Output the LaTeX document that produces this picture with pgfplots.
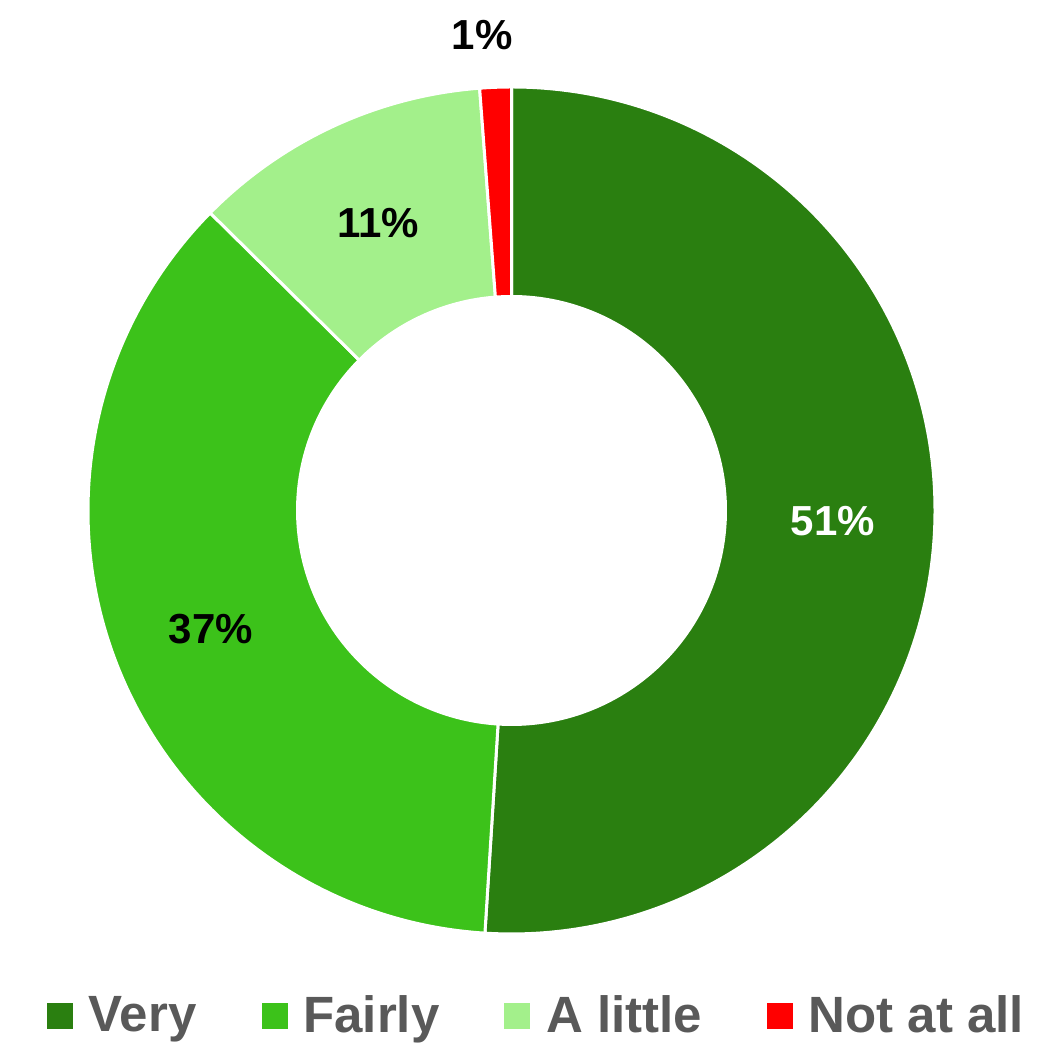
\documentclass[border=0pt]{standalone}
\usepackage{fontspec}
\setmainfont{Liberation Sans}
\usepackage{pgfplots}
\usepackage{pgfplotstable}
\pgfplotsset{compat=1.18}
\definecolor{cVery}{RGB}{42,127,16}
\definecolor{cFairly}{RGB}{60,194,26}
\definecolor{cLittle}{RGB}{163,240,139}
\definecolor{cNot}{RGB}{255,0,0}
\definecolor{cLeg}{RGB}{89,89,89}
% shares; labels as printed on the chart
\pgfplotstableread{
label value
Very 51.0
Fairly 36.4
{A little} 11.4
{Not at all} 1.2
}\data
\pgfplotstablegetelem{0}{value}\of\data \let\vA\pgfplotsretval
\pgfplotstablegetelem{1}{value}\of\data \let\vB\pgfplotsretval
\pgfplotstablegetelem{2}{value}\of\data \let\vC\pgfplotsretval
\pgfplotstablegetelem{3}{value}\of\data \let\vD\pgfplotsretval
\pgfmathsetmacro\aO{90}
\pgfmathsetmacro\aA{\aO-3.6*\vA}
\pgfmathsetmacro\aB{\aA-3.6*\vB}
\pgfmathsetmacro\aC{\aB-3.6*\vC}
\pgfmathsetmacro\aD{\aC-3.6*\vD}
% geometry (axis units = pixels; 1 unit = 0.5pt)
\def\cx{511.5}\def\cy{532.5}
\def\Ro{423.5}\def\Ri{214}
\newcommand\sector[3]{% start, end, colour
  \fill[#3, draw=white, line width=1.5pt]
    (axis cs:{\cx+\Ro*cos(#1)},{\cy+\Ro*sin(#1)})
    arc[start angle=#1, end angle=#2, radius=211.75pt]
    -- (axis cs:{\cx+\Ri*cos(#2)},{\cy+\Ri*sin(#2)})
    arc[start angle=#2, end angle=#1, radius=107pt] -- cycle;}
\begin{document}
\begin{tikzpicture}
\begin{axis}[
  width=527.5pt, height=521.5pt, scale only axis,
  xmin=0, xmax=1055, ymin=0, ymax=1043,
  hide axis, clip=false,
  legend columns=4,
  legend image code/.code={\fill[#1] (0pt,-6.25pt) rectangle (12.5pt,6.25pt);},
  legend style={at={(0.0445,0.0264)}, anchor=west, draw=none, fill=none,
    inner sep=0pt, outer sep=0pt,
    font=\fontsize{25.5}{28}\selectfont\bfseries, text=cLeg,
    nodes={inner sep=0pt, text=cLeg},
    /tikz/every odd column/.append style={column sep=8pt},
    /tikz/every even column/.append style={column sep=32.5pt}},
]
\sector{\aO}{\aA}{cVery}
\sector{\aA}{\aB}{cFairly}
\sector{\aB}{\aC}{cLittle}
\sector{\aC}{\aD}{cNot}
\addlegendimage{cVery}\addlegendentry{Very}
\addlegendimage{cFairly}\addlegendentry{Fairly}
\addlegendimage{cLittle}\addlegendentry{A little}
\addlegendimage{cNot}\addlegendentry{Not at all}
\node[font=\fontsize{21}{24}\selectfont\bfseries, text=white] at (axis cs:833,522) {51\%};
\node[font=\fontsize{21}{24}\selectfont\bfseries, text=black] at (axis cs:211,414) {37\%};
\node[font=\fontsize{21}{24}\selectfont\bfseries, text=black] at (axis cs:378,820) {11\%};
\node[font=\fontsize{21}{24}\selectfont\bfseries, text=black] at (axis cs:482,1008) {1\%};
\end{axis}
\pgfresetboundingbox
\path (current axis.south west) rectangle (current axis.north east);
\end{tikzpicture}
\end{document}
